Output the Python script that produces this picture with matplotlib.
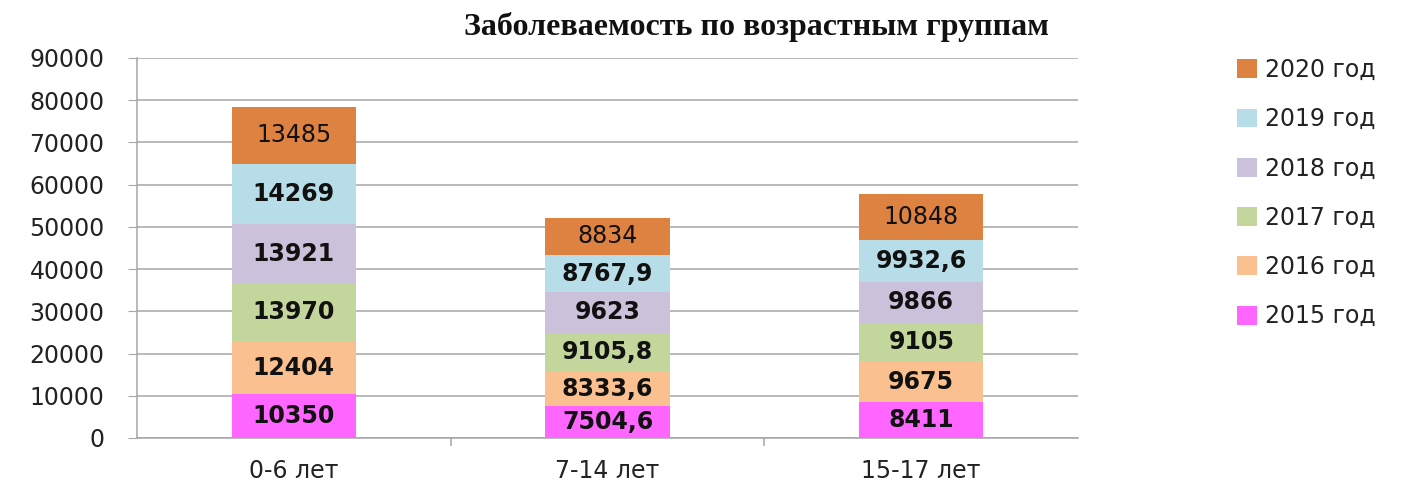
import numpy as np
import matplotlib.pyplot as plt
from matplotlib.ticker import FixedLocator

plt.rcParams['font.family'] = ['DejaVu Sans']

groups = ['0-6 лет', '7-14 лет', '15-17 лет']
years = ['2015 год', '2016 год', '2017 год', '2018 год', '2019 год', '2020 год']
v2015 = [10350, 7504.6, 8411]
v2016 = [12404, 8333.6, 9675]
v2017 = [13970, 9105.8, 9105]
v2018 = [13921, 9623, 9866]
v2019 = [14269, 8767.9, 9932.6]
v2020 = [13485, 8834, 10848]
series = [v2015, v2016, v2017, v2018, v2019, v2020]
colors = ['#ff66ff', '#fac090', '#c3d69b', '#ccc1da', '#b7dee8', '#dd8240']

fig = plt.figure(figsize=(14.01, 4.86), dpi=100)
ax = fig.add_axes([0.0978, 0.0988, 0.6717, 0.7819])

x = np.arange(len(groups))
bottom = np.zeros(len(groups))
bars = []
for i, (vals, c) in enumerate(zip(series, colors)):
    b = ax.bar(x, vals, 0.396, bottom=bottom, color=c, label=years[i], zorder=3)
    bars.append(b)
    for xi, v, bt in zip(x, vals, bottom):
        txt = f'{v:g}'.replace('.', ',')
        ax.text(xi, bt + v / 2, txt, ha='center', va='center', fontsize=17,
                fontweight='normal' if i == 5 else 'bold', color='#111111', zorder=4)
    bottom = bottom + np.array(vals)

ax.set_xlim(-0.5, 2.5)
ax.set_ylim(0, 90000)
ax.set_yticks(np.arange(0, 90001, 10000))
ax.yaxis.grid(True, color='#a6a6a6', linewidth=1.1, zorder=0)
ax.set_axisbelow(True)
ax.tick_params(axis='y', labelsize=17, length=6.5, color='#a6a6a6', pad=17, labelcolor='#222222')
ax.set_xticks(x)
ax.set_xticklabels(groups)
ax.tick_params(axis='x', which='major', length=0, labelsize=17, pad=15, labelcolor='#222222')
ax.xaxis.set_minor_locator(FixedLocator([0.5, 1.5]))
ax.tick_params(axis='x', which='minor', length=6, color='#a6a6a6', width=1.1)
for s in ['top', 'right']:
    ax.spines[s].set_visible(False)
for s in ['left', 'bottom']:
    ax.spines[s].set_color('#a6a6a6')
    ax.spines[s].set_linewidth(1.1)

fig.text(0.54, 0.945, 'Заболеваемость по возрастным группам', ha='center', va='center',
         fontsize=23, fontweight='bold', family='Liberation Serif', color='#111111')

handles = [b[0] for b in bars][::-1]
fig.legend(handles, years[::-1], loc='upper left', bbox_to_anchor=(0.8745, 0.905),
           frameon=False, fontsize=17, labelspacing=1.07, handlelength=0.85,
           handleheight=0.85, handletextpad=0.35, borderpad=0, labelcolor='#222222')

fig.savefig('out.png', dpi=100)
